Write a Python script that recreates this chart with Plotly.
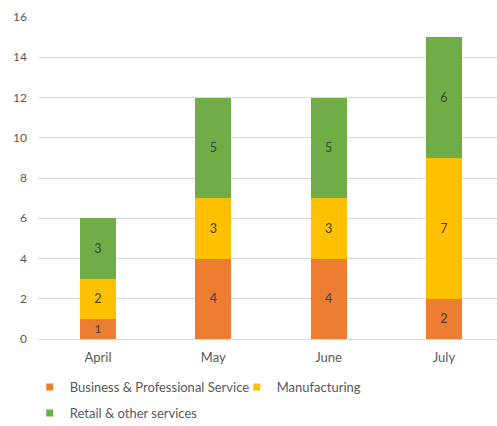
import plotly.graph_objects as go

# Monthly counts by sector
months = ["April", "May", "June", "July"]
business = [1, 4, 4, 2]
manufacturing = [2, 3, 3, 7]
retail = [3, 5, 5, 6]

series = [
    ("Business & Professional Service", business, "#ED7D31", "legend"),
    ("Manufacturing", manufacturing, "#FFC000", "legend"),
    ("Retail & other services", retail, "#70AD47", "legend2"),
]

FONT = "Lato, 'DejaVu Sans', sans-serif"
GREY = "#595959"

fig = go.Figure()
for name, vals, color, leg in series:
    fig.add_trace(go.Bar(
        x=months, y=vals, name=name,
        marker=dict(color=color, line=dict(width=0)),
        text=[str(v) for v in vals],
        textposition="inside", insidetextanchor="middle",
        textfont=dict(color="#404040", size=12.5, family=FONT),
        textangle=0,
        showlegend=False,
    ))
    # small square legend swatches
    fig.add_trace(go.Scatter(
        x=[None], y=[None], mode="markers", name=name,
        marker=dict(symbol="square", size=7, color=color),
        legend=leg, showlegend=True,
    ))

legend_common = dict(
    orientation="h", xanchor="left", yanchor="middle",
    font=dict(size=13, color=GREY, family=FONT),
    traceorder="normal",
    itemclick=False, itemdoubleclick=False,
    bgcolor="rgba(0,0,0,0)",
)

fig.update_layout(
    width=497, height=426,
    margin=dict(l=38, r=0, t=17, b=87, autoexpand=False),
    barmode="stack", bargap=0.69,
    plot_bgcolor="white", paper_bgcolor="white",
    font=dict(family=FONT, size=12, color=GREY),
    xaxis=dict(
        type="category", range=[-0.52, 3.46],
        showgrid=False, showline=False, zeroline=False,
        ticks="", tickfont=dict(size=13, color=GREY, family=FONT),
        ticklabelstandoff=9,
    ),
    yaxis=dict(
        range=[0, 16], dtick=2, tick0=0,
        showgrid=True, gridcolor="#D9D9D9", gridwidth=1,
        zeroline=True, zerolinecolor="#D9D9D9", zerolinewidth=1,
        showline=False, ticks="",
        tickfont=dict(size=12, color=GREY, family=FONT),
        ticklabelstandoff=10,
    ),
    legend=dict(legend_common, x=-0.018, y=-0.149,
                entrywidth=162, entrywidthmode="pixels"),
    legend2=dict(legend_common, x=-0.018, y=-0.23),
)

fig.write_html("out.html")
